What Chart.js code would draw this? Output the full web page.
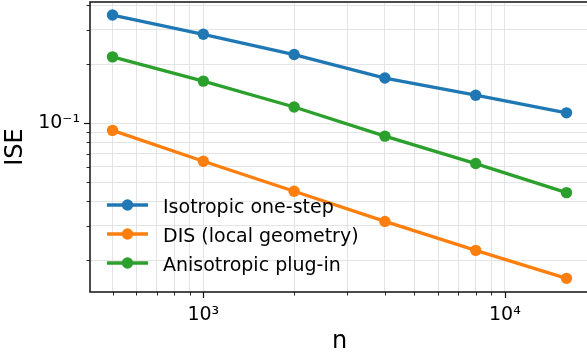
<!DOCTYPE html>
<html>
<head>
<meta charset="utf-8">
<script src="https://cdn.jsdelivr.net/npm/chart.js@4.4.1/dist/chart.umd.min.js"></script>
<style>
  html, body { margin: 0; padding: 0; overflow: hidden; background: #fff; }
  #wrap { width: 592px; height: 355px; }
</style>
</head>
<body>
<div id="wrap"><canvas id="iseChart" width="592" height="355"></canvas></div>
<script>
// sample sizes and ISE per method
const nValues = [500, 1000, 2000, 4000, 8000, 16000];
const isoISE = [0.356, 0.284, 0.224, 0.170, 0.139, 0.113];
const disISE = [0.092, 0.064, 0.045, 0.0316, 0.0225, 0.0162];
const plugISE = [0.218, 0.164, 0.121, 0.086, 0.0623, 0.0443];

const seriesNames = ['Isotropic one-step', 'DIS (local geometry)', 'Anisotropic plug-in'];
const seriesColors = ['#1f77b4', '#ff7f0e', '#2ca02c'];

const xTickValues = [500, 600, 700, 800, 900, 1000, 2000, 3000, 4000, 5000, 6000, 7000, 8000, 9000, 10000];
const yTickValues = [0.02, 0.03, 0.04, 0.05, 0.06, 0.07, 0.08, 0.09, 0.1, 0.2, 0.3, 0.4];
const xTickLabels = { 1000: '10³', 10000: '10⁴' };
const yTickLabels = { 0.1: '10⁻¹' };

const FONT = 'DejaVu Sans';

// markers would otherwise push the plot area in from the edges
Chart.registry.getController('line').prototype.getMaxOverflow = function () { return 0; };

function toPoints(ys) {
    return nValues.map((n, i) => ({ x: n, y: ys[i] }));
}

function isMajor(v) {
    const l = Math.log10(v);
    return Math.abs(l - Math.round(l)) < 1e-9;
}

// frame + tick marks drawn outward like matplotlib
const framePlugin = {
    id: 'frame',
    afterDraw(chart) {
        const ctx = chart.ctx;
        const a = chart.chartArea;
        ctx.save();
        ctx.strokeStyle = '#111';
        chart.scales.x.ticks.forEach(t => {
            const px = Math.round(chart.scales.x.getPixelForValue(t.value)) + 0.5;
            const len = isMajor(t.value) ? 6 : 3.5;
            ctx.lineWidth = isMajor(t.value) ? 1.2 : 0.9;
            ctx.beginPath();
            ctx.moveTo(px, a.bottom);
            ctx.lineTo(px, a.bottom + len);
            ctx.stroke();
        });
        chart.scales.y.ticks.forEach(t => {
            const py = Math.round(chart.scales.y.getPixelForValue(t.value)) + 0.5;
            const len = isMajor(t.value) ? 6 : 3.5;
            ctx.lineWidth = isMajor(t.value) ? 1.2 : 0.9;
            ctx.beginPath();
            ctx.moveTo(a.left, py);
            ctx.lineTo(a.left - len, py);
            ctx.stroke();
        });
        ctx.lineWidth = 1.5;
        ctx.strokeRect(a.left, a.top, a.right - a.left, a.bottom - a.top);
        ctx.restore();
    }
};

// legend inside the plot, lower left
const legendPlugin = {
    id: 'innerLegend',
    afterDatasetsDraw(chart) {
        const ctx = chart.ctx;
        const rows = [205, 234, 263];
        ctx.save();
        chart.data.datasets.forEach((ds, i) => {
            const y = rows[i];
            ctx.strokeStyle = ds.borderColor;
            ctx.lineWidth = 3.3;
            ctx.beginPath();
            ctx.moveTo(107, y);
            ctx.lineTo(148, y);
            ctx.stroke();
            ctx.fillStyle = ds.borderColor;
            ctx.beginPath();
            ctx.arc(127.5, y, 5.7, 0, Math.PI * 2);
            ctx.fill();
            ctx.fillStyle = '#000';
            ctx.font = '19px "' + FONT + '"';
            ctx.textBaseline = 'alphabetic';
            ctx.textAlign = 'left';
            ctx.fillText(ds.label, 163, y + 7.5);
        });
        ctx.restore();
    }
};

const datasets = [isoISE, disISE, plugISE].map((ys, i) => ({
    label: seriesNames[i],
    data: toPoints(ys),
    borderColor: seriesColors[i],
    backgroundColor: seriesColors[i],
    borderWidth: 3.3,
    pointRadius: 5.7,
    pointHoverRadius: 5.7,
    pointBorderWidth: 0,
    tension: 0,
    clip: false
}));

new Chart(document.getElementById('iseChart'), {
    type: 'line',
    data: { datasets: datasets },
    plugins: [framePlugin, legendPlugin],
    options: {
        responsive: false,
        animation: false,
        devicePixelRatio: 1,
        layout: { padding: { left: 0, right: 3, top: 2, bottom: 0 } },
        plugins: { legend: { display: false }, tooltip: { enabled: false } },
        scales: {
            x: {
                type: 'logarithmic',
                min: 421,
                max: 19000,
                afterBuildTicks: s => { s.ticks = xTickValues.map(v => ({ value: v })); },
                afterFit: s => { s.height = 63; s.paddingLeft = 0; s.paddingRight = 0; },
                border: { display: false },
                grid: { color: '#e4e4e4', lineWidth: 1, drawTicks: false },
                ticks: {
                    autoSkip: false,
                    maxRotation: 0,
                    padding: 12,
                    color: '#000',
                    font: { family: FONT, size: 19 },
                    callback: v => xTickLabels[v] || ''
                },
                title: {
                    display: true,
                    text: 'n',
                    color: '#000',
                    font: { family: FONT, size: 24, lineHeight: 1 },
                    padding: { top: 0, bottom: 1 }
                }
            },
            y: {
                type: 'logarithmic',
                min: 0.0138,
                max: 0.415,
                afterBuildTicks: s => { s.ticks = yTickValues.map(v => ({ value: v })); },
                afterFit: s => { s.width = 90; s.paddingTop = 0; s.paddingBottom = 0; },
                border: { display: false },
                grid: { color: '#e4e4e4', lineWidth: 1, drawTicks: false },
                ticks: {
                    autoSkip: false,
                    padding: 10,
                    color: '#000',
                    font: { family: FONT, size: 19 },
                    callback: v => yTickLabels[v] || ''
                },
                title: {
                    display: true,
                    text: 'ISE',
                    color: '#000',
                    font: { family: FONT, size: 24 },
                    padding: { top: 1, bottom: 0 }
                }
            }
        }
    }
});
</script>
</body>
</html>
